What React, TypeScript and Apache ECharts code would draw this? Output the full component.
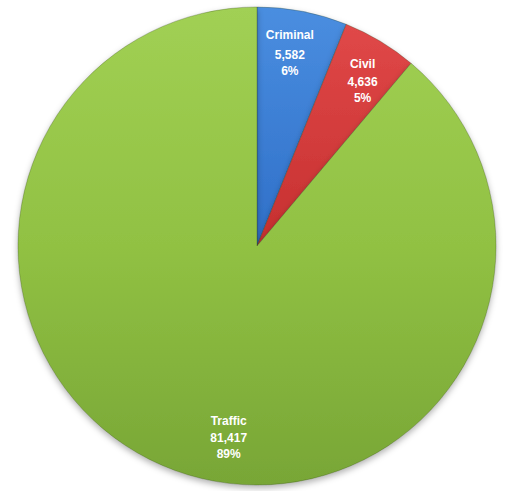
import React, { useEffect, useRef } from "react";
import * as echarts from "echarts";

const categories = ["Criminal", "Civil", "Traffic"];
const values = [5582, 4636, 81417];
const percentLabels = ["6%", "5%", "89%"];

const sliceColors = [
  new echarts.graphic.LinearGradient(0, 0, 0, 1, [
    { offset: 0, color: "#4a8ee0" },
    { offset: 1, color: "#2f6fc8" },
  ]),
  new echarts.graphic.LinearGradient(0, 0, 0, 1, [
    { offset: 0, color: "#e04848" },
    { offset: 1, color: "#c63030" },
  ]),
  new echarts.graphic.LinearGradient(0, 0, 0, 1, [
    { offset: 0, color: "#a1d054" },
    { offset: 0.5, color: "#91c143" },
    { offset: 1, color: "#78a636" },
  ]),
];

export default function App() {
  const ref = useRef<HTMLDivElement>(null);
  useEffect(() => {
    if (!ref.current) return;
    const chart = echarts.init(ref.current, null, { renderer: "svg" });
    const data = categories.map((name, i) => ({
      name,
      value: values[i],
      itemStyle: { color: sliceColors[i] },
    }));
    const fmt = (v: number) => v.toLocaleString("en-US");
    const font = "Liberation Sans, Arial, sans-serif";
    chart.setOption({
      animation: false,
      backgroundColor: "#ffffff",
      series: [
        {
          type: "pie",
          center: [257, 246],
          radius: [0, 239],
          startAngle: 90,
          clockwise: true,
          silent: true,
          label: { show: false },
          labelLine: { show: false },
          itemStyle: {
            borderColor: "rgba(40,60,20,0.35)",
            borderWidth: 0.8,
            shadowBlur: 6,
            shadowOffsetY: 3,
            shadowColor: "rgba(0,0,0,0.3)",
          },
          data,
        },
        {
          type: "pie",
          center: [257, 246],
          radius: [153, 239],
          startAngle: 90,
          clockwise: true,
          silent: true,
          itemStyle: { color: "rgba(0,0,0,0)" },
          labelLine: { show: false },
          label: {
            show: true,
            position: "inside",
            color: "#ffffff",
            fontFamily: font,
            fontWeight: "bold",
            fontSize: 12,
            formatter: (p: any) =>
              p.dataIndex === 0
                ? `{c|${p.name}}\n{v|${fmt(p.value)}}\n{v|${percentLabels[p.dataIndex]}}`
                : `{n|${p.name}}\n{v|${fmt(p.value)}}\n{v|${percentLabels[p.dataIndex]}}`,
            rich: {
              c: { color: "#ffffff", fontWeight: "bold", fontSize: 12, lineHeight: 25, fontFamily: font },
              n: { color: "#ffffff", fontWeight: "bold", fontSize: 12, lineHeight: 19, fontFamily: font },
              v: { color: "#ffffff", fontWeight: "bold", fontSize: 12, lineHeight: 16, fontFamily: font },
            },
          },
          labelLayout: (params: any) =>
            params.dataIndex === 2
              ? { dx: 40, dy: 4 }
              : params.dataIndex === 0
              ? { dx: -5, dy: 0 }
              : { dx: 3, dy: 5 },
          data: categories.map((name, i) => ({ name, value: values[i] })),
        },
      ],
    });
    return () => chart.dispose();
  }, []);
  return (
    <div
      ref={ref}
      style={{ position: "fixed", left: 0, top: 0, width: 506, height: 491 }}
    />
  );
}
